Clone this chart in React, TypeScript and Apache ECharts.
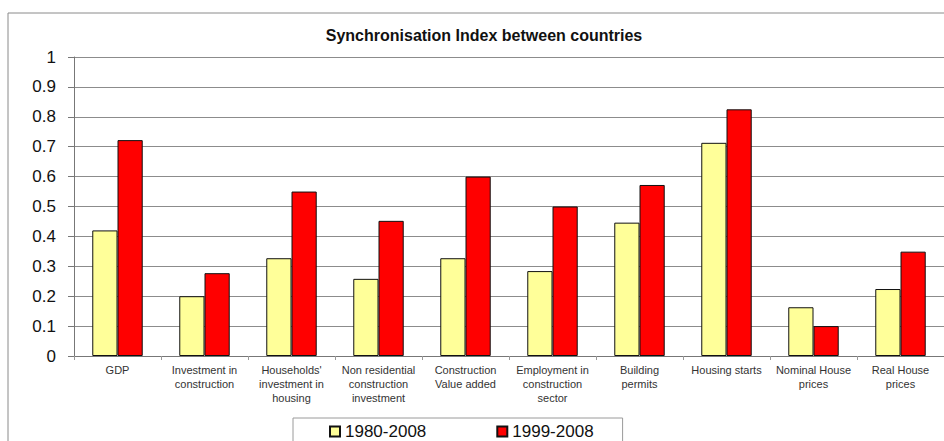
import React, { useEffect, useRef } from "react";
import * as echarts from "echarts";

const categories = [
  "GDP",
  "Investment in\nconstruction",
  "Households'\ninvestment in\nhousing",
  "Non residential\nconstruction\ninvestment",
  "Construction\nValue added",
  "Employment in\nconstruction\nsector",
  "Building\npermits",
  "Housing starts",
  "Nominal House\nprices",
  "Real House\nprices",
];
const series1980 = [0.42, 0.2, 0.327, 0.258, 0.327, 0.284, 0.446, 0.713, 0.163, 0.224];
const series1999 = [0.722, 0.277, 0.55, 0.452, 0.6, 0.5, 0.572, 0.825, 0.1, 0.349];
const seriesNames = ["1980-2008", "1999-2008"];
const yTicks = { min: 0, max: 1, interval: 0.1 };

export default function App() {
  const ref = useRef<HTMLDivElement>(null);
  useEffect(() => {
    if (!ref.current) return;
    const chart = echarts.init(ref.current, null, { renderer: "svg" });
    const font = "'Liberation Sans', Arial, sans-serif";
    chart.setOption({
      animation: false,
      backgroundColor: "#ffffff",
      textStyle: { fontFamily: font },
      title: {
        text: "Synchronisation Index between countries",
        left: 479,
        textAlign: "center",
        top: 22,
        textStyle: { fontSize: 16, fontWeight: "bold", color: "#111", fontFamily: font },
      },
      graphic: [
        {
          type: "rect",
          shape: { x: 8, y: 13, width: 1000, height: 600 },
          style: { fill: "none", stroke: "#8a8a8a", lineWidth: 1 },
          silent: true,
          z: -1,
        },
      ],
      legend: {
        left: 293,
        top: 418,
        padding: [5, 29, 10, 36],
        borderColor: "#9a9a9a",
        borderWidth: 1,
        itemWidth: 10,
        itemHeight: 10,
        itemGap: 70,
        icon: "rect",
        textStyle: { fontSize: 17, color: "#111", fontFamily: font },
        data: seriesNames,
      },
      grid: { left: 74, right: 0, top: 57, bottom: 85, containLabel: false },
      xAxis: {
        type: "category",
        data: categories,
        axisLine: { lineStyle: { color: "#777", width: 1 } },
        axisTick: { show: true, length: 4, lineStyle: { color: "#999" } },
        axisLabel: {
          interval: 0,
          fontSize: 11,
          lineHeight: 14,
          color: "#333",
          margin: 7,
          fontFamily: font,
        },
      },
      yAxis: {
        type: "value",
        min: yTicks.min,
        max: yTicks.max,
        interval: yTicks.interval,
        axisLine: { show: true, lineStyle: { color: "#777", width: 1 } },
        axisTick: { show: true, length: 6, lineStyle: { color: "#777" } },
        splitLine: { lineStyle: { color: "#8c8c8c", width: 1 } },
        axisLabel: {
          fontSize: 17,
          color: "#111",
          margin: 18,
          fontFamily: font,
          formatter: (v: number) => String(Math.round(v * 10) / 10),
        },
      },
      series: [
        {
          name: seriesNames[0],
          type: "bar",
          data: series1980,
          barGap: "0%",
          barCategoryGap: "42%",
          itemStyle: { color: "#FFFF99", borderColor: "#111", borderWidth: 1 },
        },
        {
          name: seriesNames[1],
          type: "bar",
          data: series1999,
          barGap: "0%",
          barCategoryGap: "42%",
          itemStyle: { color: "#FF0000", borderColor: "#111", borderWidth: 1 },
        },
      ],
    });
    return () => chart.dispose();
  }, []);
  return (
    <div
      ref={ref}
      style={{ position: "fixed", left: 0, top: 0, width: 944, height: 441 }}
    />
  );
}
